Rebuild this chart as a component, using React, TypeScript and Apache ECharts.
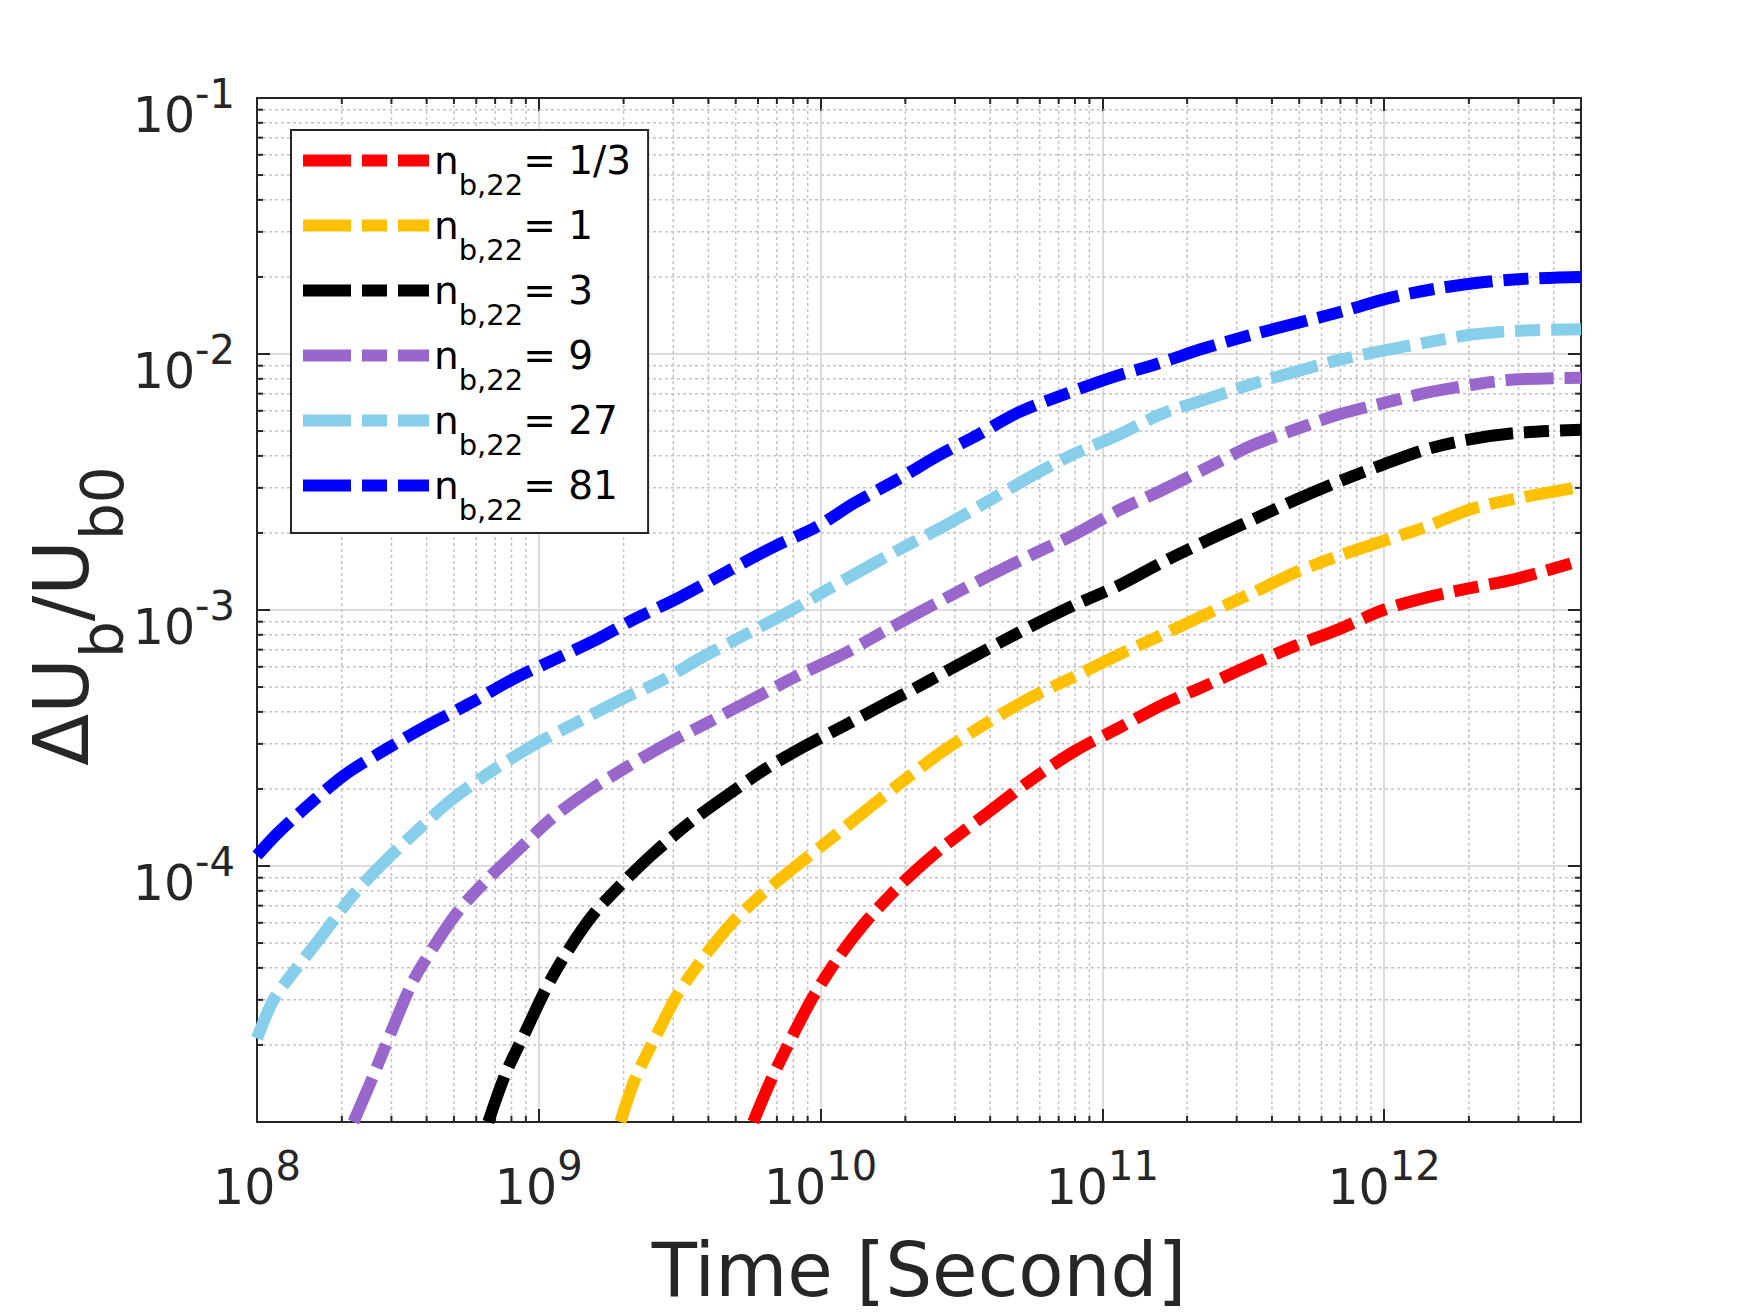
import React, { useEffect, useRef } from "react";
import * as echarts from "echarts";

const FONT = "'DejaVu Sans', sans-serif";
const AXIS_COLOR = "#262626";

const X_MIN = 1e8;
const X_MAX = 5e12;
const Y_MIN = 1e-5;
const Y_MAX = 1e-1;

const SERIES_NAMES = ["nb,22= 1/3", "nb,22= 1", "nb,22= 3", "nb,22= 9", "nb,22= 27", "nb,22= 81"];
const LEGEND_VALUES = ["1/3", "1", "3", "9", "27", "81"];
const COLORS = ["#FF0000", "#FFC000", "#000000", "#9966CC", "#87CEEB", "#0000FF"];

// n_b,22 = 1/3
const T_R = [5.77e9, 6.62e9, 7.87e9, 9.33e9, 1.15e10, 1.41e10, 1.79e10, 2.13e10, 2.73e10, 3.91e10, 5.6e10, 8.02e10, 1.15e11, 1.64e11, 2.36e11, 3.38e11, 4.84e11, 6.93e11, 9.93e11, 1.42e12, 2.04e12, 2.92e12, 5e12];
const V_R = [1.0e-5, 1.43e-5, 2.12e-5, 3.03e-5, 4.35e-5, 5.85e-5, 7.8e-5, 9.4e-5, 1.19e-4, 1.61e-4, 2.17e-4, 2.82e-4, 3.47e-4, 4.27e-4, 5.1e-4, 6.11e-4, 7.24e-4, 8.42e-4, 1.0e-3, 1.12e-3, 1.22e-3, 1.32e-3, 1.56e-3];

// n_b,22 = 1
const T_Y = [1.95e9, 2.2e9, 2.62e9, 3.11e9, 3.82e9, 4.86e9, 6.18e9, 8.13e9, 1.11e10, 1.51e10, 1.99e10, 2.73e10, 3.91e10, 5.6e10, 8.02e10, 1.15e11, 1.64e11, 2.36e11, 3.38e11, 4.84e11, 6.93e11, 9.93e11, 1.42e12, 2.04e12, 2.92e12, 5e12];
const V_Y = [1.0e-5, 1.48e-5, 2.19e-5, 3.15e-5, 4.35e-5, 6.01e-5, 7.73e-5, 9.93e-5, 1.3e-4, 1.71e-4, 2.17e-4, 2.82e-4, 3.63e-4, 4.56e-4, 5.52e-4, 6.71e-4, 8.02e-4, 9.68e-4, 1.16e-3, 1.4e-3, 1.63e-3, 1.86e-3, 2.12e-3, 2.48e-3, 2.72e-3, 3.03e-3];

// n_b,22 = 3
const T_K = [6.62e8, 7.6e8, 9.02e8, 1.07e9, 1.27e9, 1.56e9, 1.99e9, 2.53e9, 3.44e9, 4.7e9, 6.4e9, 8.71e9, 1.23e10, 1.73e10, 2.13e10, 2.73e10, 3.91e10, 5.6e10, 8.02e10, 1.15e11, 1.64e11, 2.36e11, 3.38e11, 4.84e11, 6.93e11, 9.93e11, 1.42e12, 2.04e12, 2.92e12, 5e12];
const V_K = [1.0e-5, 1.53e-5, 2.28e-5, 3.38e-5, 4.67e-5, 6.46e-5, 8.61e-5, 1.11e-4, 1.48e-4, 1.9e-4, 2.4e-4, 2.92e-4, 3.56e-4, 4.35e-4, 4.9e-4, 5.68e-4, 7.03e-4, 8.65e-4, 1.05e-3, 1.25e-3, 1.54e-3, 1.87e-3, 2.24e-3, 2.69e-3, 3.18e-3, 3.7e-3, 4.25e-3, 4.65e-3, 4.91e-3, 5.06e-3];

// n_b,22 = 9
const T_P = [2.2e8, 2.53e8, 3.01e8, 3.56e8, 4.24e8, 5.2e8, 6.62e8, 8.41e8, 1.11e9, 1.51e9, 2.06e9, 2.9e9, 4.09e9, 5.77e9, 8.41e9, 1.23e10, 1.73e10, 2.73e10, 3.91e10, 5.6e10, 8.02e10, 1.15e11, 1.64e11, 2.36e11, 3.38e11, 4.84e11, 6.93e11, 9.93e11, 1.42e12, 2.04e12, 2.92e12, 5e12];
const V_P = [1.0e-5, 1.43e-5, 2.28e-5, 3.51e-5, 4.84e-5, 6.7e-5, 8.93e-5, 1.15e-4, 1.53e-4, 1.97e-4, 2.44e-4, 3.03e-4, 3.69e-4, 4.5e-4, 5.58e-4, 6.81e-4, 8.4e-4, 1.1e-3, 1.35e-3, 1.64e-3, 1.98e-3, 2.46e-3, 2.95e-3, 3.6e-3, 4.38e-3, 5.07e-3, 5.81e-3, 6.43e-3, 7.06e-3, 7.57e-3, 7.95e-3, 8.07e-3];

// n_b,22 = 27
const T_C = [1e8, 1.15e8, 1.36e8, 1.67e8, 2.2e8, 2.81e8, 3.69e8, 4.86e8, 6.85e8, 9.66e8, 1.36e9, 1.92e9, 2.71e9, 3.82e9, 5.57e9, 7.6e9, 1.07e10, 1.56e10, 2.13e10, 2.73e10, 3.91e10, 5.6e10, 8.02e10, 1.15e11, 1.64e11, 2.36e11, 3.38e11, 4.84e11, 6.93e11, 9.93e11, 1.42e12, 2.04e12, 2.92e12, 5e12];
const V_C = [2.12e-5, 3.03e-5, 3.9e-5, 5.2e-5, 7.73e-5, 1.03e-4, 1.37e-4, 1.8e-4, 2.36e-4, 2.98e-4, 3.63e-4, 4.42e-4, 5.28e-4, 6.56e-4, 8.15e-4, 9.75e-4, 1.21e-3, 1.53e-3, 1.84e-3, 2.12e-3, 2.65e-3, 3.33e-3, 4.09e-3, 4.85e-3, 5.86e-3, 6.68e-3, 7.62e-3, 8.53e-3, 9.48e-3, 1.03e-2, 1.11e-2, 1.19e-2, 1.23e-2, 1.25e-2];

// n_b,22 = 81
const T_B = [1e8, 1.19e8, 1.56e8, 2.06e8, 2.81e8, 3.95e8, 5.77e8, 8.13e8, 1.19e9, 1.62e9, 2.2e9, 3.11e9, 4.7e9, 6.85e9, 9.66e9, 1.32e10, 1.91e10, 2.63e10, 3.64e10, 5.02e10, 7.46e10, 1.07e11, 1.59e11, 2.28e11, 3.26e11, 4.84e11, 7.18e11, 1.03e12, 1.53e12, 2.27e12, 3.25e12, 5e12];
const V_B = [1.1e-4, 1.35e-4, 1.77e-4, 2.28e-4, 2.82e-4, 3.5e-4, 4.35e-4, 5.38e-4, 6.56e-4, 7.71e-4, 9.25e-4, 1.11e-3, 1.42e-3, 1.77e-3, 2.11e-3, 2.62e-3, 3.27e-3, 4.02e-3, 4.85e-3, 5.9e-3, 7.0e-3, 8.07e-3, 9.2e-3, 1.05e-2, 1.175e-2, 1.315e-2, 1.47e-2, 1.65e-2, 1.8e-2, 1.91e-2, 1.97e-2, 2.0e-2];

const TIMES = [T_R, T_Y, T_K, T_P, T_C, T_B];
const VALUES = [V_R, V_Y, V_K, V_P, V_C, V_B];

// minor grid positions (mantissa x decade)
const MINOR_MANTISSAS = [2, 3, 4, 5, 6, 7, 8, 9];
const X_DECADES = [1e8, 1e9, 1e10, 1e11, 1e12];
const Y_DECADES = [1e-5, 1e-4, 1e-3, 1e-2];

const DASH = [48, 11, 25, 11];
const LEGEND_ICON = "path://M0,0H48V12H0Z M59,0H84V12H59Z M95,0H126V12H95Z";

const tickRich = {
  b: { fontSize: 49, lineHeight: 49, padding: [17, 0, 0, 0], verticalAlign: "top", fontFamily: FONT, color: AXIS_COLOR },
  s: { fontSize: 40, lineHeight: 40, verticalAlign: "top", fontFamily: FONT, color: AXIS_COLOR },
};

function powLabel(v: number, hideExps: number[]) {
  const l = Math.log10(v);
  const e = Math.round(l);
  if (Math.abs(l - e) > 1e-6) return "";
  if (hideExps.indexOf(e) >= 0) return "";
  return `{b|10}{s|${e}}`;
}

export default function App() {
  const ref = useRef<HTMLDivElement>(null);
  useEffect(() => {
    if (!ref.current) return;
    const chart = echarts.init(ref.current, undefined, { renderer: "svg" });

    const xMinor: number[] = [];
    X_DECADES.forEach((d) => MINOR_MANTISSAS.forEach((m) => { const v = m * d; if (v < X_MAX) xMinor.push(v); }));
    const yMinor: number[] = [];
    Y_DECADES.forEach((d) => MINOR_MANTISSAS.forEach((m) => { const v = m * d; if (v < Y_MAX) yMinor.push(v); }));

    const minorStyle = { stroke: "#c3c3c3", lineWidth: 1.5, lineDash: [3, 3] };
    const tickStyle = { stroke: AXIS_COLOR, lineWidth: 2 };

    const lineSeries = SERIES_NAMES.map((name, i) => ({
      type: "line",
      name,
      data: TIMES[i].map((t, j) => [t, VALUES[i][j]]),
      symbol: "none",
      showSymbol: false,
      silent: true,
      clip: true,
      smooth: 0.3,
      z: 3,
      lineStyle: { color: COLORS[i], width: 12, type: DASH, cap: "butt", join: "miter" },
      itemStyle: { color: COLORS[i] },
      emphasis: { disabled: true },
    }));

    const option: any = {
      animation: false,
      backgroundColor: "#ffffff",
      textStyle: { fontFamily: FONT },
      grid: { left: 257, top: 98, width: 1324, height: 1027, containLabel: false },
      xAxis: [
        {
          type: "log",
          logBase: 10,
          min: X_MIN,
          max: X_MAX,
          position: "bottom",
          splitNumber: 5,
          axisLine: { show: true, onZero: false, lineStyle: { color: AXIS_COLOR, width: 2 } },
          axisTick: { show: true, inside: true, length: 13, lineStyle: { color: AXIS_COLOR, width: 2 } },
          minorTick: { show: false },
          splitLine: { show: true, lineStyle: { color: "#dcdcdc", width: 2 } },
          axisLabel: {
            margin: 24,
            formatter: (v: number) => powLabel(v, []),
            rich: tickRich,
            color: AXIS_COLOR,
            fontFamily: FONT,
          },
          name: "Time [Second]",
          nameLocation: "middle",
          nameGap: 111,
          nameTextStyle: { fontSize: 74, color: AXIS_COLOR, fontFamily: FONT },
        },
        {
          type: "log",
          logBase: 10,
          min: X_MIN,
          max: X_MAX,
          position: "top",
          splitNumber: 5,
          axisLine: { show: true, onZero: false, lineStyle: { color: AXIS_COLOR, width: 2 } },
          axisTick: { show: true, inside: true, length: 13, lineStyle: { color: AXIS_COLOR, width: 2 } },
          axisLabel: { show: false },
          splitLine: { show: false },
        },
      ],
      yAxis: [
        {
          type: "log",
          logBase: 10,
          min: Y_MIN,
          max: Y_MAX,
          position: "left",
          splitNumber: 4,
          axisLine: { show: true, onZero: false, lineStyle: { color: AXIS_COLOR, width: 2 } },
          axisTick: { show: true, inside: true, length: 13, lineStyle: { color: AXIS_COLOR, width: 2 } },
          minorTick: { show: false },
          splitLine: { show: true, lineStyle: { color: "#dcdcdc", width: 2 } },
          axisLabel: {
            margin: 22,
            formatter: (v: number) => powLabel(v, [-5]),
            rich: tickRich,
            color: AXIS_COLOR,
            fontFamily: FONT,
          },
        },
        {
          type: "log",
          logBase: 10,
          min: Y_MIN,
          max: Y_MAX,
          position: "right",
          splitNumber: 4,
          axisLine: { show: true, onZero: false, lineStyle: { color: AXIS_COLOR, width: 2 } },
          axisTick: { show: true, inside: true, length: 13, lineStyle: { color: AXIS_COLOR, width: 2 } },
          axisLabel: { show: false },
          splitLine: { show: false },
        },
      ],
      legend: {
        orient: "vertical",
        left: 291,
        top: 130,
        padding: [11, 17, 9, 12],
        itemGap: 7,
        itemWidth: 126,
        itemHeight: 12,
        backgroundColor: "#ffffff",
        borderColor: AXIS_COLOR,
        borderWidth: 2,
        borderRadius: 0,
        selectedMode: false,
        data: SERIES_NAMES.map((n, i) => ({ name: n, icon: LEGEND_ICON, itemStyle: { color: COLORS[i], borderWidth: 0 } })),
        formatter: (name: string) => {
          const i = SERIES_NAMES.indexOf(name);
          return `{m|n}{s|b,22}{m|= ${LEGEND_VALUES[i]}}`;
        },
        textStyle: {
          color: "#000000",
          fontFamily: FONT,
          rich: {
            m: { fontSize: 39, lineHeight: 39, verticalAlign: "top", fontFamily: FONT, color: "#000000" },
            s: { fontSize: 29, lineHeight: 29, padding: [29, 0, 0, 0], verticalAlign: "top", fontFamily: FONT, color: "#000000" },
          },
        },
      },
      graphic: [
        {
          type: "text",
          x: 61,
          y: 616,
          rotation: Math.PI / 2,
          silent: true,
          style: {
            text: "{m|ΔU}{s|b}{m|/U}{s|b0}",
            align: "center",
            verticalAlign: "middle",
            fill: AXIS_COLOR,
            fontFamily: FONT,
            rich: {
              m: { fontSize: 76, lineHeight: 76, verticalAlign: "top", fontFamily: FONT, fill: AXIS_COLOR },
              s: { fontSize: 58, lineHeight: 58, padding: [51, 0, 0, 0], verticalAlign: "top", fontFamily: FONT, fill: AXIS_COLOR },
            },
          },
        },
      ],
      series: [
        {
          type: "custom",
          name: "xminor",
          silent: true,
          z: 1,
          data: xMinor.map((v) => [v, 1e-3]),
          encode: { x: 0, y: 1 },
          renderItem: (_p: any, api: any) => {
            const v = api.value(0);
            const b = api.coord([v, Y_MIN]);
            const t = api.coord([v, Y_MAX]);
            return {
              type: "group",
              children: [
                { type: "line", shape: { x1: b[0], y1: b[1], x2: t[0], y2: t[1] }, style: minorStyle },
                { type: "line", shape: { x1: b[0], y1: b[1], x2: b[0], y2: b[1] - 6 }, style: tickStyle },
                { type: "line", shape: { x1: t[0], y1: t[1], x2: t[0], y2: t[1] + 6 }, style: tickStyle },
              ],
            };
          },
        },
        {
          type: "custom",
          name: "yminor",
          silent: true,
          z: 1,
          data: yMinor.map((v) => [1e10, v]),
          encode: { x: 0, y: 1 },
          renderItem: (_p: any, api: any) => {
            const v = api.value(1);
            const l = api.coord([X_MIN, v]);
            const r = api.coord([X_MAX, v]);
            return {
              type: "group",
              children: [
                { type: "line", shape: { x1: l[0], y1: l[1], x2: r[0], y2: r[1] }, style: minorStyle },
                { type: "line", shape: { x1: l[0], y1: l[1], x2: l[0] + 6, y2: l[1] }, style: tickStyle },
                { type: "line", shape: { x1: r[0], y1: r[1], x2: r[0] - 6, y2: r[1] }, style: tickStyle },
              ],
            };
          },
        },
        ...lineSeries,
      ],
    };

    chart.setOption(option);
    return () => chart.dispose();
  }, []);

  return (
    <div
      ref={ref}
      style={{ position: "absolute", left: 0, top: 0, width: "1748px", height: "1312px", background: "#ffffff" }}
    />
  );
}
